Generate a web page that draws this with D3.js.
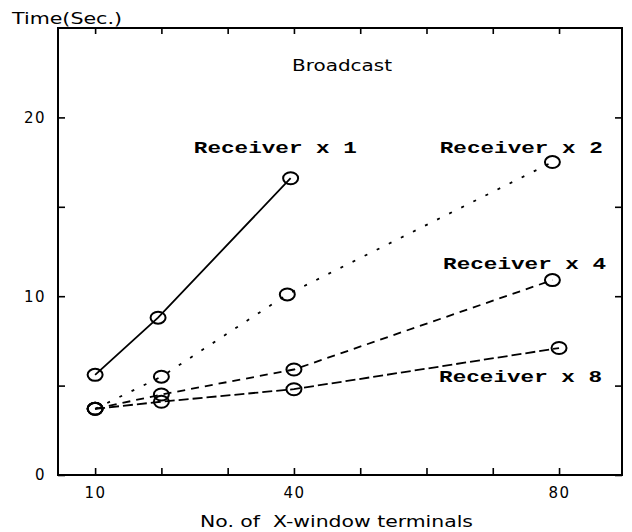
<!DOCTYPE html>
<html>
<head>
<meta charset="utf-8">
<script src="https://cdn.jsdelivr.net/npm/d3@7"></script>
<style>
  body { margin: 0; background: #fff; }
  text { fill: #000; }
</style>
</head>
<body>
<div id="chart"></div>
<script>
// values (x = no. of terminals, y = seconds)
var seriesNames = ["Receiver x 1", "Receiver x 2", "Receiver x 4", "Receiver x 8"];
var termsX1 = [10, 19.5, 39.5],     timeX1 = [5.6, 8.8, 16.6];
var termsX2 = [10, 20, 39, 79],     timeX2 = [3.7, 5.5, 10.1, 17.5];
var termsX4 = [10, 20, 40, 79],     timeX4 = [3.7, 4.5, 5.9, 10.9];
var termsX8 = [10, 20, 40, 80],     timeX8 = [3.7, 4.1, 4.8, 7.1];
var xTicks = [10, 20, 30, 40, 50, 60, 70, 80];
var xTickLabels = ["10", "", "", "40", "", "", "", "80"];
var yTicks = [0, 5, 10, 15, 20];
var yTickLabels = ["0", "", "10", "", "20"];

var width = 632, height = 532;
var plotL = 58, plotR = 622, plotT = 28, plotB = 475;

var svg = d3.select("#chart").append("svg")
    .attr("width", width)
    .attr("height", height);

var x = d3.scaleLinear().domain([4.4, 89.5]).range([plotL, plotR]);
var y = d3.scaleLinear().domain([0, 25]).range([plotB, plotT]);

// frame
svg.append("rect")
    .attr("x", plotL).attr("y", plotT)
    .attr("width", plotR - plotL).attr("height", plotB - plotT)
    .style("fill", "none").style("stroke", "#000").style("stroke-width", 2);

function styleAxis(g) {
  g.select(".domain").remove();
  g.selectAll(".tick line").style("stroke", "#000").style("stroke-width", 1.6);
  g.selectAll(".tick text")
    .style("font-family", "'DejaVu Sans', sans-serif")
    .style("font-size", "15px")
    .style("letter-spacing", "1.5px");
}

svg.append("g")
    .attr("transform", "translate(0," + plotB + ")")
    .call(d3.axisBottom(x).tickValues(xTicks).tickSize(-7).tickPadding(12)
      .tickFormat(function(d, i) { return xTickLabels[i]; }))
    .call(styleAxis);

svg.append("g")
    .attr("transform", "translate(0," + plotT + ")")
    .call(d3.axisTop(x).tickValues(xTicks).tickSize(-6).tickFormat(""))
    .call(styleAxis);

svg.append("g")
    .attr("transform", "translate(" + plotL + ",0)")
    .call(d3.axisLeft(y).tickValues(yTicks).tickSize(-7).tickPadding(12)
      .tickFormat(function(d, i) { return yTickLabels[i]; }))
    .call(styleAxis);

svg.append("g")
    .attr("transform", "translate(" + plotR + ",0)")
    .call(d3.axisRight(y).tickValues(yTicks).tickSize(-7).tickFormat(""))
    .call(styleAxis);

// series
var series = [
  {name: seriesNames[0], xs: termsX1, ys: timeX1, dash: null,  lab: [24.9, 18.0]},
  {name: seriesNames[1], xs: termsX2, ys: timeX2, dash: "3,10.5", lab: [62.0, 18.0]},
  {name: seriesNames[2], xs: termsX4, ys: timeX4, dash: "8,6", lab: [62.5, 11.5]},
  {name: seriesNames[3], xs: termsX8, ys: timeX8, dash: "10,4", lab: [61.9, 5.2]}
];

var line = d3.line()
    .x(function(d) { return x(d[0]); })
    .y(function(d) { return y(d[1]); });

series.forEach(function(s) {
  var pts = s.xs.map(function(v, i) { return [v, s.ys[i]]; });
  svg.append("path")
      .datum(pts)
      .attr("d", line)
      .style("fill", "none")
      .style("stroke", "#000")
      .style("stroke-width", 1.8)
      .style("stroke-dasharray", s.dash);

  svg.append("g").selectAll("ellipse")
      .data(pts)
    .enter().append("ellipse")
      .attr("cx", function(d) { return x(d[0]); })
      .attr("cy", function(d) { return y(d[1]); })
      .attr("rx", 7.5)
      .attr("ry", 6)
      .style("fill", "none")
      .style("stroke", "#000")
      .style("stroke-width", 2);

  svg.append("text")
      .attr("x", x(s.lab[0]))
      .attr("y", y(s.lab[1]))
      .attr("textLength", 163)
      .attr("lengthAdjust", "spacingAndGlyphs")
      .style("font-family", "'Liberation Mono', 'Courier New', monospace")
      .style("font-weight", "bold")
      .style("font-size", "17px")
      .text(s.name);
});

// titles
svg.append("text")
    .attr("x", 12).attr("y", 24)
    .attr("textLength", 110)
    .attr("lengthAdjust", "spacingAndGlyphs")
    .style("font-family", "'DejaVu Sans', sans-serif")
    .style("font-size", "15px")
    .text("Time(Sec.)");

svg.append("text")
    .attr("x", 292).attr("y", 71)
    .attr("textLength", 100)
    .attr("lengthAdjust", "spacingAndGlyphs")
    .style("font-family", "'DejaVu Sans', sans-serif")
    .style("font-size", "15px")
    .text("Broadcast");

svg.append("text")
    .attr("x", 200).attr("y", 527)
    .attr("textLength", 273)
    .attr("lengthAdjust", "spacingAndGlyphs")
    .style("font-family", "'DejaVu Sans', sans-serif")
    .style("font-size", "15px")
    .style("white-space", "pre")
    .text("No. of  X-window terminals");
</script>
</body>
</html>
